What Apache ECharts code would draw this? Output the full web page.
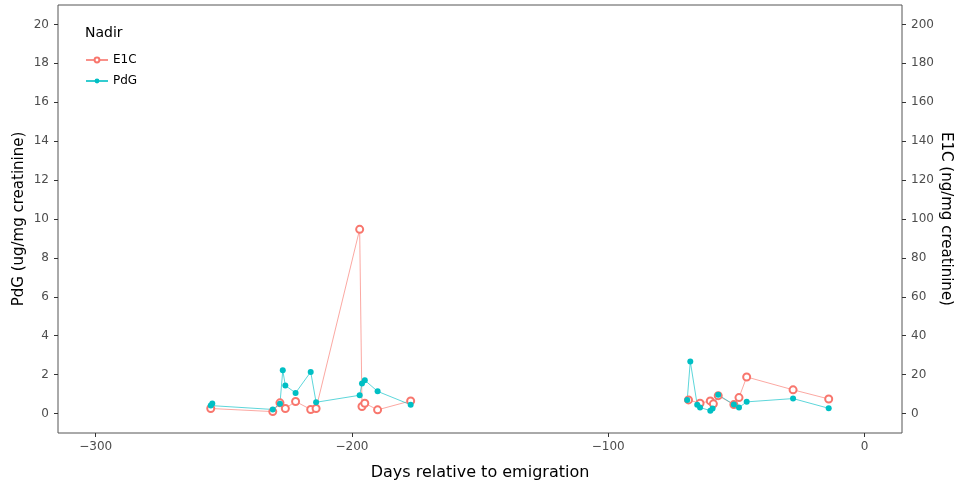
<!DOCTYPE html>
<html>
<head>
<meta charset="utf-8">
<script src="https://cdn.jsdelivr.net/npm/echarts@6/dist/echarts.min.js"></script>
<style>
  html, body { margin: 0; padding: 0; background: #fff; }
  #chart { width: 961px; height: 495px; }
</style>
</head>
<body>
<div id="chart"></div>
<script>
// Days relative to emigration for each PdG sample, and PdG (ug/mg creatinine)
const pdgDaysA = [-255.1, -254.5, -230.9, -228.1, -227.0, -226.0, -222.0, -216.1, -214.0, -197.0, -196.1, -195.0, -190.0, -177.1];
const pdgValsA = [0.41, 0.51, 0.21, 0.50, 2.22, 1.44, 1.06, 2.14, 0.58, 0.94, 1.55, 1.71, 1.14, 0.45];
const pdgDaysB = [-69.2, -68.0, -65.3, -64.2, -60.2, -59.3, -57.1, -51.0, -49.0, -46.0, -27.9, -14.0];
const pdgValsB = [0.70, 2.68, 0.45, 0.31, 0.15, 0.26, 0.96, 0.46, 0.31, 0.60, 0.77, 0.27];

// Days for each E1C sample, and E1C (ng/mg creatinine)
const e1cDaysA = [-255.1, -230.9, -228.1, -226.0, -222.0, -216.1, -214.0, -197.0, -196.1, -195.0, -190.0, -177.1];
const e1cValsA = [2.6, 1.0, 5.5, 2.6, 6.2, 2.1, 2.6, 94.7, 3.6, 5.3, 1.9, 6.5];
const e1cDaysB = [-68.7, -64.2, -60.2, -59.0, -57.1, -51.0, -49.0, -46.0, -27.9, -14.0];
const e1cValsB = [7.0, 5.3, 6.5, 5.0, 9.2, 4.6, 8.2, 18.8, 12.2, 7.5];

// Tick labels
const xTicks = [-300, -200, -100, 0];
const pdgTicks = [0, 2, 4, 6, 8, 10, 12, 14, 16, 18, 20];
const e1cTicks = [0, 20, 40, 60, 80, 100, 120, 140, 160, 180, 200];

const RED = '#F8766D';
const TEAL = '#00BFC4';
const FONT = 'DejaVu Sans';

// Join the two sampling periods, leaving a gap between them
function pairs(daysA, valsA, daysB, valsB) {
  const out = daysA.map((d, i) => [d, valsA[i]]);
  out.push([(daysA[daysA.length - 1] + daysB[0]) / 2, '-']);
  daysB.forEach((d, i) => out.push([d, valsB[i]]));
  return out;
}

const chart = echarts.init(document.getElementById('chart'), null, { renderer: 'canvas' });

const tickStyle = { show: true, length: 4, inside: false, lineStyle: { color: '#333', width: 1 } };
const labelStyle = { color: '#4D4D4D', fontSize: 12, fontFamily: FONT };
const hiddenLine = { show: false, onZero: false };

chart.setOption({
  animation: false,
  backgroundColor: '#fff',
  textStyle: { fontFamily: FONT },
  title: {
    text: 'Nadir',
    left: 80, top: 21,
    textStyle: { fontSize: 14, fontWeight: 'normal', color: '#000', fontFamily: FONT }
  },
  legend: {
    orient: 'vertical',
    left: 80, top: 49,
    itemWidth: 22, itemHeight: 6,
    itemGap: 9,
    textStyle: { fontSize: 12, color: '#000', fontFamily: FONT },
    data: ['E1C', 'PdG']
  },
  grid: {
    left: 58, right: 59, top: 5, bottom: 62,
    outerBoundsMode: 'none',
    show: true, borderColor: '#555', borderWidth: 1, backgroundColor: '#fff'
  },
  xAxis: {
    type: 'value',
    min: -314.7, max: 14.6,
    name: 'Days relative to emigration',
    nameLocation: 'middle', nameGap: 32,
    nameTextStyle: { fontSize: 16, color: '#000', fontFamily: FONT },
    axisLine: hiddenLine,
    axisTick: Object.assign({ customValues: xTicks }, tickStyle),
    axisLabel: Object.assign({ customValues: xTicks, margin: 8, formatter: v => (v < 0 ? '\u2212' + (-v) : '' + v) }, labelStyle),
    splitLine: { show: false }
  },
  yAxis: [
    {
      type: 'value',
      min: -1, max: 21,
      position: 'left',
      name: 'PdG (ug/mg creatinine)',
      nameLocation: 'middle', nameGap: 31, nameRotate: 90,
      nameMoveOverlap: false,
      nameTextStyle: { fontSize: 15, color: '#000', fontFamily: FONT },
      axisLine: hiddenLine,
      axisTick: Object.assign({ customValues: pdgTicks }, tickStyle),
      axisLabel: Object.assign({ customValues: pdgTicks, margin: 9 }, labelStyle),
      splitLine: { show: false }
    },
    {
      type: 'value',
      min: -10, max: 210,
      position: 'right',
      name: 'E1C (ng/mg creatinine)',
      nameLocation: 'middle', nameGap: 36, nameRotate: -90,
      nameMoveOverlap: false,
      nameTextStyle: { fontSize: 15, color: '#000', fontFamily: FONT },
      axisLine: hiddenLine,
      axisTick: Object.assign({ customValues: e1cTicks }, tickStyle),
      axisLabel: Object.assign({ customValues: e1cTicks, margin: 9 }, labelStyle),
      splitLine: { show: false }
    }
  ],
  series: [
    {
      name: 'E1C',
      type: 'line',
      yAxisIndex: 1,
      data: pairs(e1cDaysA, e1cValsA, e1cDaysB, e1cValsB),
      connectNulls: false,
      symbol: 'emptyCircle',
      symbolSize: 7,
      showAllSymbol: true,
      itemStyle: { color: RED, borderColor: RED, borderWidth: 0.9 },
      lineStyle: { color: RED, width: 0.8, opacity: 0.8 }
    },
    {
      name: 'PdG',
      type: 'line',
      yAxisIndex: 0,
      data: pairs(pdgDaysA, pdgValsA, pdgDaysB, pdgValsB),
      connectNulls: false,
      symbol: 'circle',
      symbolSize: 6,
      showAllSymbol: true,
      itemStyle: { color: TEAL },
      lineStyle: { color: TEAL, width: 0.8, opacity: 0.8 }
    }
  ]
});
</script>
</body>
</html>
